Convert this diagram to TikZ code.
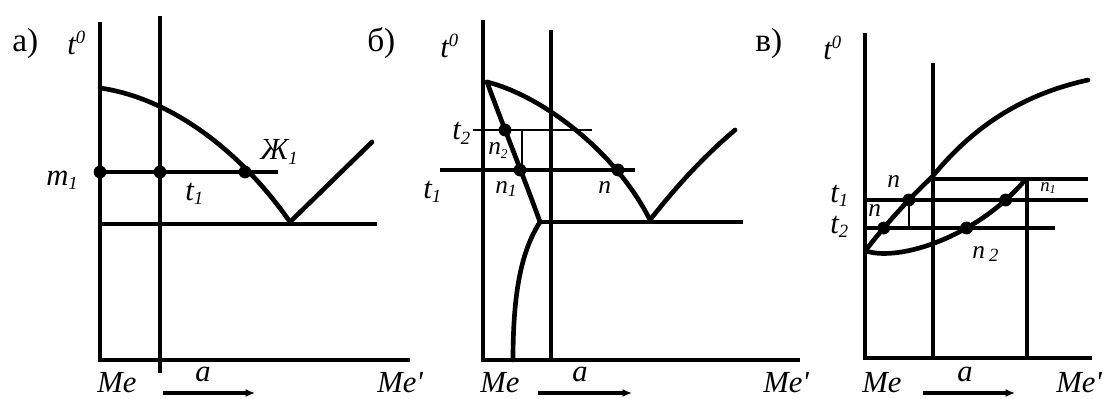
\documentclass[tikz,border=0pt]{standalone}
\usepackage{fontspec}
\setmainfont{Liberation Serif}
\newfontfamily\libserif{Liberation Serif}
\usetikzlibrary{arrows.meta,intersections}
\newcommand\lbfont{\libserif\fontsize{23}{26}\selectfont\itshape}
\newcommand\nfont{\libserif\fontsize{19}{21}\selectfont\itshape}
\newcommand\pfont{\libserif\fontsize{25}{28}\selectfont}
\newcommand\lsub[2][14]{\raisebox{-0.3ex}{\fontsize{#1}{#1}\selectfont #2}}
\newcommand\lsup[2][14]{\raisebox{0.8ex}{\fontsize{#1}{#1}\selectfont #2}}
\begin{document}
\begin{tikzpicture}[x=0.75pt,y=-0.75pt,
  axisline/.style={line width=3.2pt, line join=miter},
  curve/.style={line width=3.5pt, line cap=round, line join=round},
  midline/.style={line width=2.3pt},
  thinline/.style={line width=1.5pt},
  hairline/.style={line width=0.8pt},
  dot/.style={fill=black},
  lbl/.style={anchor=base west, inner sep=0pt, font=\lbfont},
  nlbl/.style={anchor=base west, inner sep=0pt, font=\nfont},
  plbl/.style={anchor=base west, inner sep=0pt, font=\pfont},
  arr/.style={line width=2.3pt, -{Latex[length=7pt,width=6pt]}}]
\useasboundingbox (0,0) rectangle (1105,399);

% ================= panel a =================
\draw[axisline] (100,22) -- (100,360) -- (410,360);
\draw[axisline] (160,16) -- (160,373);
\draw[curve] (100,88) .. controls (170,98) and (240,150) .. (290,222);
\draw[curve] (290,222) -- (372,142);
\draw[midline] (100,172) -- (278,172);
\draw[line width=2.6pt] (100,224) -- (377,224);
\foreach \p in {(100,172),(160,172),(245,172)} \fill[dot] \p circle[radius=4.8pt];
\node[plbl] (pa) at (12,52) {а)};
\node[lbl] (ta0) at (67,55) {t\lsup{0}};
\node[lbl] (ma1) at (46,185) {m\lsub{1}};
\node[lbl] (ta1) at (185,200) {t\lsub{1}};
\node[lbl] (ja1) at (260,160) {Ж\lsub{1}};
\node[lbl] (mea) at (97,392) {Me};
\node[lbl] (aa) at (195,381) {a};
\node[lbl] (mepa) at (377,392) {Me\textquotesingle};
\coordinate (aas) at (163,393); \coordinate (aae) at (255,393);
\draw[arr] (aas) -- (aae);

% ================= panel b =================
\draw[axisline] (483,20) -- (483,360) -- (800,360);
\draw[line width=2.6pt] (551,30) -- (551,360);
\draw[curve] (487,82) .. controls (540,95) and (615,150) .. (650,220);
\draw[curve] (650,220) .. controls (675,188) and (702,158) .. (735,130);
\draw[curve] (487,82) .. controls (500,118) and (525,180) .. (540,222);
\draw[curve] (540,222) .. controls (522,250) and (513,290) .. (513,360);
\draw[line width=2.6pt] (540,222) -- (743,222);
\draw[thinline] (473,130) -- (592,130);
\draw[midline] (440,170) -- (635,170);
\draw[hairline] (522,130) -- (522,170);
\foreach \p in {(505,130),(520,170),(618,170)} \fill[dot] \p circle[radius=4.8pt];
\node[plbl] (pb) at (367,52) {б)};
\node[lbl] (tb0) at (440,58) {t\lsup{0}};
\node[lbl] (tb2) at (452,140) {t\lsub{2}};
\node[nlbl] (nb2) at (488,155) {n\lsub[10]{2}};
\node[lbl] (tb1) at (423,198) {t\lsub{1}};
\node[nlbl] (nb1) at (495,193) {n\lsub[13]{1}};
\node[nlbl] (nb) at (598,193) {n};
\node[lbl] (meb) at (480,392) {Me};
\node[lbl] (ab) at (572,381) {a};
\node[lbl] (mepb) at (763,392) {Me\textquotesingle};
\coordinate (abs) at (538,393); \coordinate (abe) at (632,393);
\draw[arr] (abs) -- (abe);

% ================= panel c =================
\draw[axisline] (865,33) -- (865,358) -- (1092,358);
\draw[line width=2.6pt] (933,63) -- (933,358);
\draw[line width=2.6pt] (1027,180) -- (1027,358);
\draw[curve, name path=liq] (866,250) .. controls (878,234) and (905,202) .. (932,177)
   .. controls (972,128) and (1020,95) .. (1088,80);
\draw[curve, name path=sol] (866,251) .. controls (900,262) and (978,236) .. (1025,180);
\draw[line width=2.6pt] (933,179) -- (1088,179);
\draw[line width=2.6pt, name path=tone] (865,200) -- (1088,200);
\draw[line width=2.6pt, name path=ttwo] (865,228) -- (1055,228);
\path[name intersections={of=liq and tone, by=L1}];
\path[name intersections={of=liq and ttwo, by=L2}];
\path[name intersections={of=sol and tone, by=S1}];
\path[name intersections={of=sol and ttwo, by=S2}];
\draw[thinline] (L1) -- (L1 |- L2);
\foreach \p in {L1,L2,S1,S2} \fill[dot] (\p) circle[radius=4.8pt];
\node[plbl] (pc) at (755,52) {в)};
\node[lbl] (tc0) at (823,60) {t\lsup{0}};
\node[lbl] (tc1) at (830,202) {t\lsub{1}};
\node[lbl] (tc2) at (830,233) {t\lsub{2}};
\node[nlbl] (nc) at (887,187) {n};
\node[nlbl] (ncl) at (868,216) {n};
\node[anchor=base west, inner sep=0pt, font=\libserif\fontsize{14}{16}\selectfont\itshape] (nc1) at (1040,191) {n\lsub[9]{1}};
\node[nlbl] (nc2) at (972,258) {n\,\lsub{2}};
\node[lbl] (mec) at (862,392) {Me};
\node[lbl] (ac) at (957,381) {a};
\node[lbl] (mepc) at (1056,392) {Me\textquotesingle};
\coordinate (acs) at (923,393); \coordinate (ace) at (1015,393);
\draw[arr] (acs) -- (ace);
\end{tikzpicture}
\end{document}
